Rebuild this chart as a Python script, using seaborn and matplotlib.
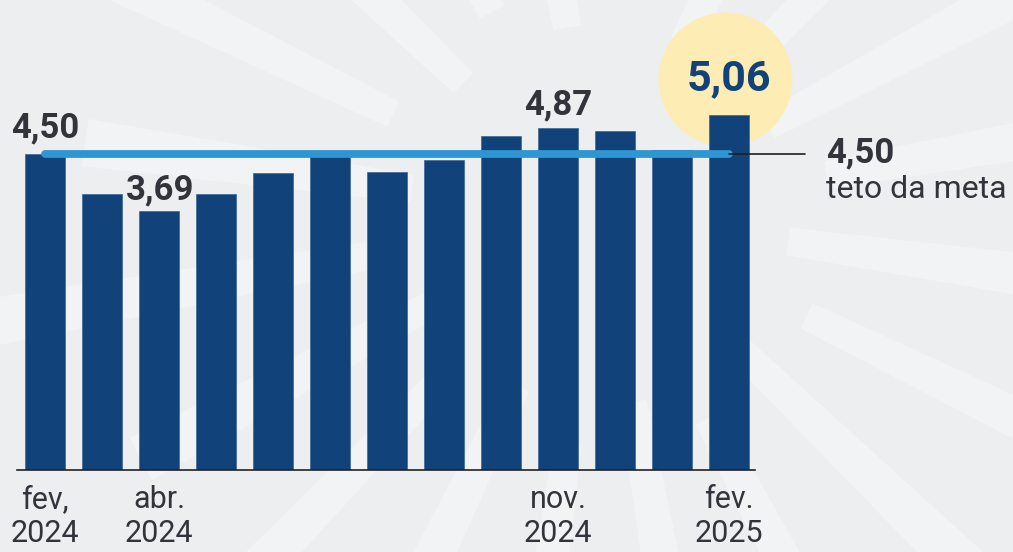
import numpy as np
import pandas as pd
import matplotlib
matplotlib.use("Agg")
import matplotlib.pyplot as plt
from matplotlib.patches import Polygon
import seaborn as sns

# ---- data ----
months = ["fev/24", "mar/24", "abr/24", "mai/24", "jun/24", "jul/24", "ago/24",
          "set/24", "out/24", "nov/24", "dez/24", "jan/25", "fev/25"]
values = [4.50, 3.93, 3.69, 3.93, 4.23, 4.50, 4.24, 4.42, 4.76, 4.87, 4.83, 4.56, 5.06]
tick_pos = [0, 2, 9, 12]
tick_labels = ["fev,\n2024", "abr.\n2024", "nov.\n2024", "fev.\n2025"]
labelled = [0, 2, 9]
target = 4.50
target_label = "teto da meta"

def br(v):
    return f"{v:.2f}".replace(".", ",")

BG = "#eceef0"
RAY = "#f2f3f5"
BAR = "#114279"
LINE = "#2d96d3"
TXT = "#31353b"

sns.set_theme(style="white")
plt.rcParams["font.family"] = ["Roboto", "DejaVu Sans"]

W, H = 1013, 552
fig = plt.figure(figsize=(W / 100, H / 100), dpi=100)
fig.patch.set_facecolor(BG)

# ---- decorative sunburst background ----
bg = fig.add_axes([0, 0, 1, 1], zorder=-5)
bg.set_xlim(0, W)
bg.set_ylim(H, 0)
bg.axis("off")
cx, cy = 600, 215
for k, deg in enumerate(np.arange(8, 368, 18)):
    a = np.deg2rad(deg)
    ux, uy = np.cos(a), np.sin(a)
    px, py = -uy, ux
    r1 = 190 if k % 2 == 0 else 230
    r2 = 520 if k % 2 == 0 else 620
    h1, h2 = 14, 24
    pts = [
        (cx + r1 * ux - h1 * px, cy + r1 * uy - h1 * py),
        (cx + r2 * ux - h2 * px, cy + r2 * uy - h2 * py),
        (cx + r2 * ux + h2 * px, cy + r2 * uy + h2 * py),
        (cx + r1 * ux + h1 * px, cy + r1 * uy + h1 * py),
    ]
    bg.add_patch(Polygon(pts, closed=True, facecolor=RAY, edgecolor="none"))

# ---- main axes ----
ax = fig.add_axes([17 / W, (H - 470) / H, (755 - 17) / W, 470 / H])
ax.set_facecolor("none")

df = pd.DataFrame({"mes": months, "ipca": values})
sns.barplot(data=df, x="mes", y="ipca", order=months, color=BAR, saturation=1,
            width=0.7, ax=ax, zorder=3, edgecolor="#3a6797", linewidth=0.5)

ax.set_xlim(-0.491, 12.456)
ax.set_ylim(0, 470 / 70.2)

# highlight circle behind last bar
last = len(values) - 1
ax.scatter([last - 0.07], [values[last] + 0.51], s=96.5 ** 2, color="#fdedb5",
           zorder=1, linewidths=0, clip_on=False)

# target line
ax.plot([0, last], [target, target], color=LINE, lw=5.6, solid_capstyle="round", zorder=4)
ax.plot([last, last + 1.33], [target, target], color="#1f1f1f", lw=1.2, zorder=5, clip_on=False)
ax.text(last + 1.70, target + 0.02, br(target), fontsize=25, fontweight="bold", color=TXT,
        ha="left", va="center", clip_on=False)
ax.text(last + 1.70, target - 0.51, target_label, fontsize=23, color=TXT,
        ha="left", va="center", clip_on=False)

# value labels
offsets = {0: 0.37, 2: 0.30, 9: 0.33}
for i in labelled:
    ax.text(i + (0.02 if i == 2 else 0), values[i] + offsets[i], br(values[i]),
            fontsize=25, fontweight="bold", color=TXT, ha="center", va="center", zorder=6)
ax.text(last, values[last] + 0.51, br(values[last]), fontsize=31, fontweight="bold",
        color="#12427a", ha="center", va="center", zorder=6)

# axes styling
ax.set_xticks(tick_pos)
ax.set_xticklabels(tick_labels, fontsize=22, color=TXT, linespacing=1.2)
ax.tick_params(axis="x", length=0, pad=11)
ax.set_yticks([])
ax.set_xlabel("")
ax.set_ylabel("")
for s in ["top", "right", "left"]:
    ax.spines[s].set_visible(False)
ax.spines["bottom"].set_color("#222222")
ax.spines["bottom"].set_linewidth(1.2)
ax.spines["bottom"].set_zorder(6)

fig.savefig("out.png", dpi=100, facecolor=BG)
